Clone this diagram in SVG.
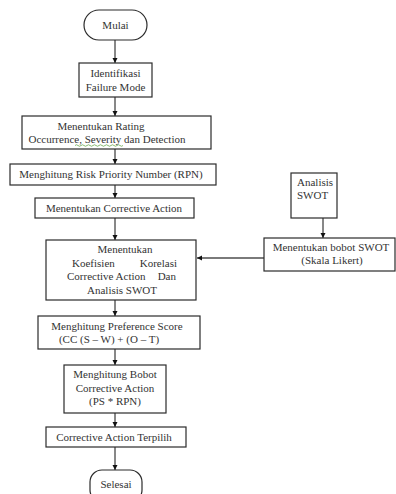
<svg xmlns="http://www.w3.org/2000/svg" width="396" height="494" viewBox="0 0 396 494">
<defs>
<style>
.box{fill:#fff;stroke:#2b2b2b;stroke-width:1.2}
text{font-family:'Liberation Serif','Times New Roman','DejaVu Serif',serif;font-size:11px;fill:#333}
.t{text-anchor:middle}
.l{text-anchor:start}
.c{stroke:#111;stroke-width:1;fill:none;marker-end:url(#ah)}
.g{stroke:#7a7a7a;stroke-width:2;fill:none;marker-end:url(#ahs)}
</style>
<marker id="ah" viewBox="0 0 10 10" refX="10" refY="5" markerWidth="5" markerHeight="6" markerUnits="userSpaceOnUse" orient="auto">
<path d="M0,0 L10,5 L0,10 Z" fill="#111"/>
</marker>
<marker id="ahs" viewBox="0 0 10 10" refX="10" refY="5" markerWidth="5" markerHeight="6" markerUnits="userSpaceOnUse" orient="auto">
<path d="M0,0 L10,5 L0,10 Z" fill="#111"/>
</marker>
</defs>
<rect width="396" height="494" fill="#fff"/>

<g id="connectors">
<line class="c" x1="115" y1="40" x2="115" y2="63"/>
<line class="c" x1="115" y1="97" x2="115" y2="116"/>
<line class="c" x1="115" y1="149" x2="115" y2="164"/>
<line class="c" x1="115" y1="185" x2="115" y2="198"/>
<line class="c" x1="115" y1="218" x2="115" y2="240"/>
<line class="c" x1="323" y1="218" x2="323" y2="238"/>
<line class="g" x1="264" y1="258" x2="197" y2="258"/>
<line class="c" x1="115" y1="300" x2="115" y2="316"/>
<line class="c" x1="115" y1="349" x2="115" y2="365"/>
<line class="c" x1="115" y1="413" x2="115" y2="427"/>
<line class="c" x1="115" y1="447" x2="115" y2="470"/>
</g>

<g id="mulai">
<rect class="box" x="84" y="10" width="63" height="30" rx="15" ry="15"/>
<text class="t" x="115.5" y="29">Mulai</text>
</g>

<g id="identifikasi">
<rect class="box" x="79" y="63" width="73" height="34"/>
<text class="t" x="115.5" y="77">Identifikasi</text>
<text class="t" x="115.5" y="91">Failure Mode</text>
</g>

<g id="rating">
<rect class="box" x="22" y="116" width="189" height="33"/>
<text class="t" x="101" y="130">Menentukan Rating</text>
<text class="t" x="107" y="143">Occurrence, Severity dan Detection</text>
<path d="M75,145.5 q1.5,-1.5 3,0 t3,0 t3,0 t3,0 t3,0 t3,0 t3,0 t3,0 t3,0 t3,0 t3,0 t3,0 t3,0 t3,0 t3,0 t3,0" fill="none" stroke="#6aa84f" stroke-width="0.8"/>
</g>

<g id="rpn">
<rect class="box" x="10" y="164" width="206" height="21"/>
<text class="t" x="111" y="178">Menghitung Risk Priority Number (RPN)</text>
</g>

<g id="corrective">
<rect class="box" x="35" y="198" width="159" height="20"/>
<text class="t" x="114" y="212">Menentukan Corrective Action</text>
</g>

<g id="koefisien">
<rect class="box" x="46" y="240" width="150" height="60"/>
<text class="t" x="125" y="253">Menentukan</text>
<text class="l" y="267"><tspan x="72">Koefisien</tspan><tspan x="177" text-anchor="end">Korelasi</tspan></text>
<text class="l" y="280"><tspan x="67">Corrective Action</tspan><tspan x="176" text-anchor="end">Dan</tspan></text>
<text class="t" x="122" y="294">Analisis SWOT</text>
</g>

<g id="analisis-swot">
<rect class="box" x="291" y="173" width="46" height="45"/>
<text class="l" x="297" y="186" font-size="10.5">Analisis</text>
<text class="l" x="297" y="199" font-size="10.5">SWOT</text>
</g>

<g id="bobot-swot">
<rect class="box" x="264" y="238" width="131" height="33"/>
<text class="t" x="331" y="251">Menentukan bobot SWOT</text>
<text class="t" x="332" y="264">(Skala Likert)</text>
</g>

<g id="preference">
<rect class="box" x="38" y="316" width="162" height="33"/>
<text class="t" x="117" y="330">Menghitung Preference Score</text>
<text class="t" x="109" y="343">(CC (S – W) + (O – T)</text>
</g>

<g id="bobot-ca">
<rect class="box" x="64" y="365" width="102" height="48"/>
<text class="t" x="115" y="378">Menghitung Bobot</text>
<text class="t" x="115" y="392">Corrective Action</text>
<text class="t" x="115" y="405">(PS * RPN)</text>
</g>

<g id="terpilih">
<rect class="box" x="46" y="427" width="140" height="20"/>
<text class="t" x="114" y="441">Corrective Action Terpilih</text>
</g>

<g id="selesai">
<rect class="box" x="90" y="470" width="52" height="32" rx="12" ry="12"/>
<text class="t" x="116" y="488">Selesai</text>
</g>
</svg>
